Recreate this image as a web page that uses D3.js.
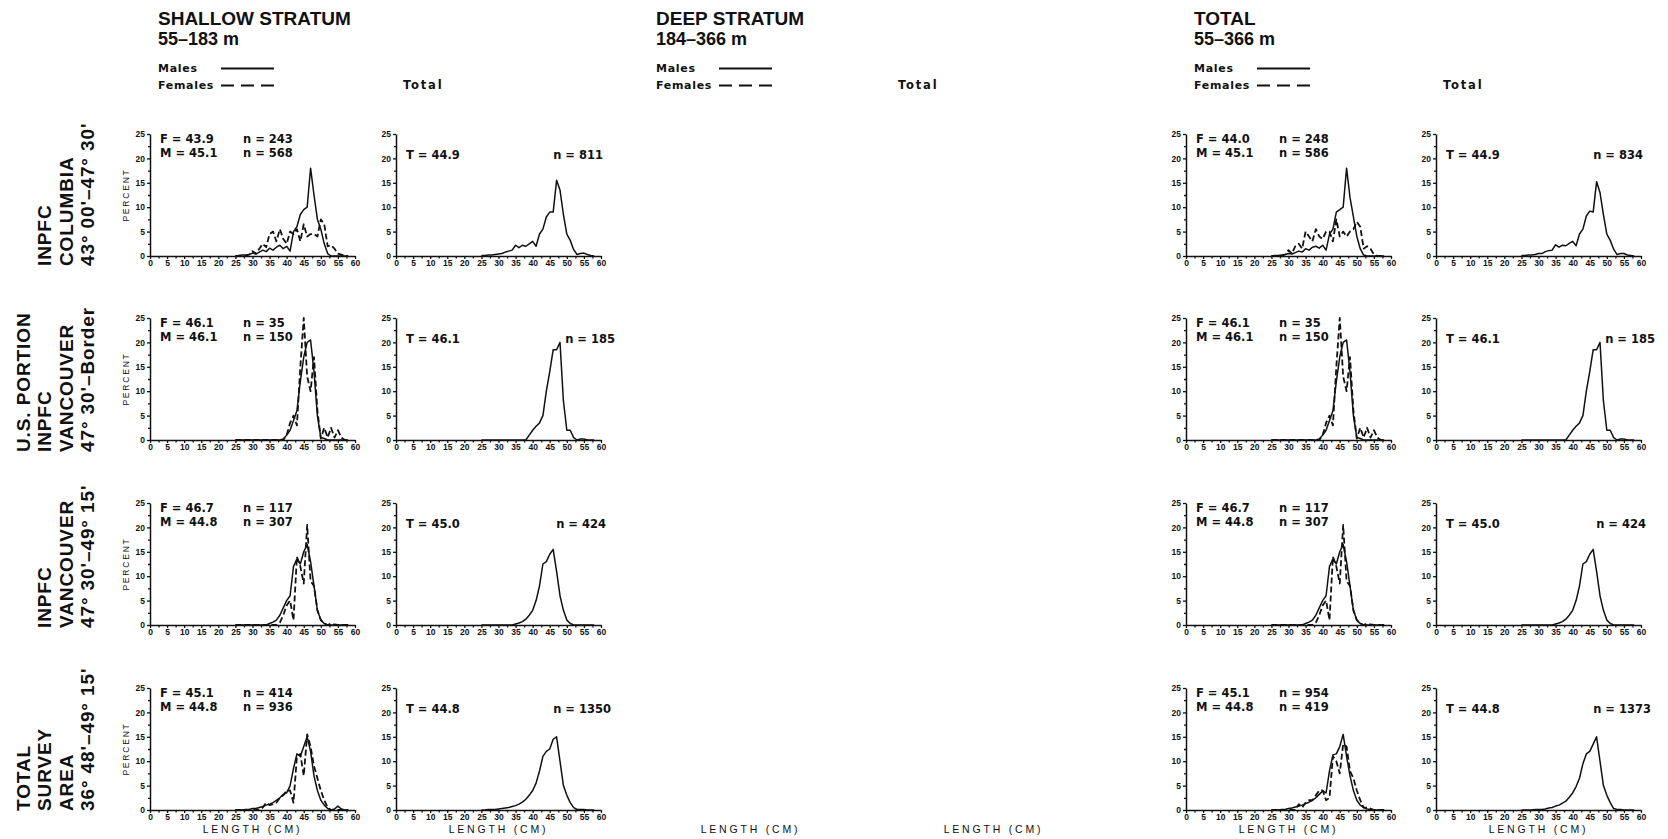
<!DOCTYPE html>
<html>
<head>
<meta charset="utf-8">
<script src="https://cdn.jsdelivr.net/npm/d3@7"></script>
<style>
  html, body { margin: 0; padding: 0; background: #fff; }
  svg { display: block; }
</style>
</head>
<body>
<svg id="chart" width="1668" height="839"></svg>
<script>
// Length classes (cm) at which each frequency series is recorded
const lengthCm = [25,26,27,28,29,30,31,32,33,34,35,36,37,38,39,40,41,
                  42,43,44,45,46,47,48,49,50,51,52,53,54,55,56,57,58];

// Axis ticks
const xTickLabels = [0,5,10,15,20,25,30,35,40,45,50,55,60];
const xMinorTicks = [2.5,7.5,12.5,17.5,22.5,27.5,32.5,37.5,42.5,47.5,52.5,57.5];
const yTickLabels = [0,5,10,15,20,25];
const yMinorTicks = [2.5,7.5,12.5,17.5,22.5];

// Row (area) labels
const rowLabels = [
  ["INPFC", "COLUMBIA", "43° 00'–47° 30'"],
  ["U.S. PORTION", "INPFC", "VANCOUVER", "47° 30'–Border"],
  ["INPFC", "VANCOUVER", "47° 30'–49° 15'"],
  ["TOTAL", "SURVEY", "AREA", "36° 48'–49° 15'"]
];

// Shallow stratum (55–183 m): percent frequency by length
const shallowColumbiaMales   = [0,0.1,0.2,0.2,0.3,0.6,0.4,0.8,1.2,0.9,1.6,1.2,1.8,2.2,1.5,2.0,1.0,5.0,6.0,8.5,9.5,10.0,18.0,12.5,7.5,5.5,2.5,0.5,0,0,0,0,0,0];
const shallowColumbiaFemales = [0,0,0,0,0.3,1.0,0.5,1.5,2.5,1.8,4.5,5.0,3.0,5.5,3.5,2.5,5.0,4.5,5.5,3.0,6.5,4.0,4.5,4.5,4.0,7.5,6.5,2.0,2.2,1.5,0.5,0.3,0,0];
const shallowColumbiaTotal   = [0.1,0.1,0.2,0.2,0.3,0.4,0.5,0.8,1.0,1.2,2.2,1.7,2.2,2.0,2.5,3.0,2.0,4.5,5.5,8.0,9.0,9.0,15.5,13.5,8.5,4.5,3.2,1.3,0.3,0.5,0.6,0.3,0.1,0];

const usVancouverMales   = [0,0,0,0,0,0,0,0,0,0,0,0,0,0,0.2,1.0,2.0,4.0,6.0,12.0,17.0,20.0,20.5,14.0,5.0,0.5,0.3,0,0,0,0,0,0,0];
const usVancouverFemales = [0,0,0,0,0,0,0,0,0,0,0,0,0,0,0,1.0,3.5,5.0,3.0,15.0,25.0,13.0,10.0,17.0,6.0,0.3,2.5,0.5,2.5,0.5,2.0,0.5,0,0];
const usVancouverTotal   = [0,0,0,0,0,0,0,0,0,0,0,0,0,0,1.0,2.0,2.8,3.5,5.0,10.0,14.0,18.5,18.5,20.0,8.0,2.0,2.0,0.5,0,0.2,0.2,0,0,0];

const vancouverMales   = [0,0,0,0,0,0,0,0,0,0,0.3,0.6,1.0,2.0,3.5,5.0,6.0,12.0,13.5,12.5,15.0,16.5,13.0,8.0,3.0,1.0,0.3,0,0,0,0,0,0,0];
const vancouverFemales = [0,0,0,0,0,0,0,0,0,0,0,0,0,0.5,2.0,4.0,5.0,1.0,14.0,12.0,8.5,20.5,9.0,8.0,3.0,1.0,0.3,0,0.3,0.1,0,0,0,0];
const vancouverTotal   = [0,0,0,0,0,0,0,0,0,0,0.2,0.4,0.7,1.2,2.0,3.0,5.0,8.0,12.5,13.0,14.5,15.5,11.0,6.0,3.0,1.0,0.3,0,0,0,0,0,0,0];

const shallowSurveyMales   = [0,0,0,0.1,0.1,0.3,0.3,0.5,0.7,1.0,1.2,1.5,2.0,2.5,3.2,3.5,5.0,8.5,11.5,11.0,13.0,15.0,12.0,7.0,4.0,2.0,1.0,0.3,0,0.2,0.8,0.2,0,0];
const shallowSurveyFemales = [0,0,0,0,0,0,0,0,0.5,1.5,1.0,1.2,1.5,2.5,3.0,4.0,4.0,1.5,11.0,11.5,7.0,15.5,13.0,9.0,6.5,4.0,2.0,0.5,0,0,0,0,0,0];
const shallowSurveyTotal   = [0,0,0.1,0.1,0.1,0.2,0.3,0.4,0.5,0.7,0.9,1.2,1.6,2.2,3.0,4.0,5.5,8.0,11.0,12.0,12.5,14.5,15.0,10.0,5.0,3.0,1.5,0.5,0.1,0.1,0.1,0,0,0];

// All depths (55–366 m): rows that differ from the shallow stratum
const allColumbiaMales   = [0,0.1,0.1,0.2,0.3,0.5,0.4,0.7,1.0,0.8,1.5,1.2,1.8,2.0,1.6,2.2,1.2,4.5,5.5,9.0,9.5,10.0,18.0,12.0,8.0,4.0,1.5,0.2,0,0,0,0,0,0];
const allColumbiaFemales = [0,0,0,0,0.3,1.2,0.5,2.0,2.5,1.5,5.0,4.0,3.0,5.5,4.0,3.5,5.0,5.0,3.0,7.5,4.0,5.0,4.0,5.0,5.5,7.0,6.0,1.5,2.0,1.5,0.3,0,0,0];
const allColumbiaTotal   = [0.1,0.1,0.2,0.2,0.3,0.5,0.5,0.9,1.1,1.2,2.3,1.8,2.2,2.1,2.6,3.0,2.1,4.5,5.5,8.2,9.2,9.0,15.2,13.0,8.5,4.5,3.2,1.4,0.3,0.5,0.5,0.2,0.1,0];

const allSurveyMales   = [0,0,0,0.1,0.1,0.3,0.4,0.6,0.8,1.0,1.3,1.6,2.0,2.5,3.2,3.9,3.5,8.0,11.3,11.5,13.0,15.5,11.0,7.0,4.0,2.0,1.0,0.5,0.2,0.1,0,0,0,0];
const allSurveyFemales = [0,0,0,0,0,0,0,0,1.2,0.5,1.5,2.0,2.0,3.0,4.0,4.0,2.0,2.5,11.0,10.0,7.5,13.5,13.0,8.0,6.5,4.0,2.0,0.5,0.5,0.3,0,0,0,0];
const allSurveyTotal   = [0,0,0,0,0.1,0.1,0.1,0.2,0.4,0.5,0.8,1.0,1.4,1.8,2.6,3.5,4.8,6.5,9.5,11.5,12.0,13.5,15.0,10.0,5.0,3.0,1.5,0.3,0.1,0.1,0,0,0,0];

// Mean lengths (cm) and sample sizes printed in each panel
const shallowFemaleMean = [43.9, 46.1, 46.7, 45.1];
const shallowFemaleN    = [243, 35, 117, 414];
const shallowMaleMean   = [45.1, 46.1, 44.8, 44.8];
const shallowMaleN      = [568, 150, 307, 936];
const shallowTotalMean  = [44.9, 46.1, 45.0, 44.8];
const shallowTotalN     = [811, 185, 424, 1350];

const allFemaleMean = [44.0, 46.1, 46.7, 45.1];
const allFemaleN    = [248, 35, 117, 954];
const allMaleMean   = [45.1, 46.1, 44.8, 44.8];
const allMaleN      = [586, 150, 307, 419];
const allTotalMean  = [44.9, 46.1, 45.0, 44.8];
const allTotalN     = [834, 185, 424, 1373];

// ---------------------------------------------------------------
const svg = d3.select("#chart");
const ink = "#111";
const bodyFont = "'Liberation Sans', Arial, sans-serif";
const wideFont = "'DejaVu Sans', 'Liberation Sans', sans-serif";

const panelW = 205, panelH = 122;
const rowBase = [256, 440, 625, 810];          // y of each row's x-axis
const rowLabelBottom = [266, 452, 628, 811];
const nEndOffset = [207, 219, 210, 215];

const x = d3.scaleLinear().domain([0, 60]).range([0, panelW]);
const y = d3.scaleLinear().domain([0, 25]).range([panelH, 0]);
const line = d3.line().x((d, i) => x(lengthCm[i])).y(d => y(d));
const fmt = d3.format(".1f");

const groups = [
  {
    title: "SHALLOW STRATUM", depth: "55–183 m", sexX: 150, totX: 396, data: true, percent: true,
    males: [shallowColumbiaMales, usVancouverMales, vancouverMales, shallowSurveyMales],
    females: [shallowColumbiaFemales, usVancouverFemales, vancouverFemales, shallowSurveyFemales],
    totals: [shallowColumbiaTotal, usVancouverTotal, vancouverTotal, shallowSurveyTotal],
    fMean: shallowFemaleMean, fN: shallowFemaleN, mMean: shallowMaleMean, mN: shallowMaleN,
    tMean: shallowTotalMean, tN: shallowTotalN
  },
  { title: "DEEP STRATUM", depth: "184–366 m", sexX: 648, totX: 891, data: false },
  {
    title: "TOTAL", depth: "55–366 m", sexX: 1186, totX: 1436, data: true, percent: false,
    males: [allColumbiaMales, usVancouverMales, vancouverMales, allSurveyMales],
    females: [allColumbiaFemales, usVancouverFemales, vancouverFemales, allSurveyFemales],
    totals: [allColumbiaTotal, usVancouverTotal, vancouverTotal, allSurveyTotal],
    fMean: allFemaleMean, fN: allFemaleN, mMean: allMaleMean, mN: allMaleN,
    tMean: allTotalMean, tN: allTotalN
  }
];

// Group headers and legends
groups.forEach(g => {
  const hx = g.sexX + 8;
  svg.append("text").attr("x", hx).attr("y", 25)
    .attr("font-family", bodyFont).attr("font-weight", "bold").attr("font-size", 19)
    .attr("fill", ink).text(g.title);
  svg.append("text").attr("x", hx).attr("y", 45)
    .attr("font-family", bodyFont).attr("font-weight", "bold").attr("font-size", 18)
    .attr("fill", ink).text(g.depth);
  svg.append("text").attr("x", hx).attr("y", 72)
    .attr("font-family", wideFont).attr("font-weight", "bold").attr("font-size", 11)
    .attr("letter-spacing", 0.7).attr("fill", ink).text("Males");
  svg.append("text").attr("x", hx).attr("y", 89)
    .attr("font-family", wideFont).attr("font-weight", "bold").attr("font-size", 11)
    .attr("letter-spacing", 0.7).attr("fill", ink).text("Females");
  svg.append("line").attr("x1", g.sexX + 71).attr("x2", g.sexX + 124)
    .attr("y1", 68.5).attr("y2", 68.5).attr("stroke", ink).attr("stroke-width", 1.8);
  svg.append("line").attr("x1", g.sexX + 71).attr("x2", g.sexX + 124)
    .attr("y1", 85.5).attr("y2", 85.5).attr("stroke", ink).attr("stroke-width", 1.8)
    .attr("stroke-dasharray", "13,7");
  svg.append("text").attr("x", g.totX + 7).attr("y", 89)
    .attr("font-family", wideFont).attr("font-weight", "bold").attr("font-size", 11.5)
    .attr("letter-spacing", 1.8).attr("fill", ink).text("Total");
});

// Row labels, rotated
rowLabels.forEach((lines, i) => {
  const n = lines.length;
  lines.forEach((t, j) => {
    const bx = 94 - (n - 1 - j) * 21.5;
    svg.append("text")
      .attr("transform", `translate(${bx},${rowLabelBottom[i]}) rotate(-90)`)
      .attr("font-family", bodyFont).attr("font-weight", "bold").attr("font-size", 19)
      .attr("letter-spacing", 0.9).attr("fill", ink).text(t);
  });
});

function drawAxes(p) {
  const ax = p.append("g").attr("transform", `translate(0,${panelH})`);
  ax.call(d3.axisBottom(x).tickValues(xTickLabels).tickSize(3).tickSizeOuter(0).tickPadding(0.5));
  const axm = p.append("g").attr("transform", `translate(0,${panelH})`);
  axm.call(d3.axisBottom(x).tickValues(xMinorTicks).tickSize(2.5).tickSizeOuter(0).tickFormat(""));
  axm.select(".domain").remove();
  const ay = p.append("g");
  ay.call(d3.axisLeft(y).tickValues(yTickLabels).tickSize(3).tickSizeOuter(0).tickPadding(2));
  const aym = p.append("g");
  aym.call(d3.axisLeft(y).tickValues(yMinorTicks).tickSize(2).tickSizeOuter(0).tickFormat(""));
  aym.select(".domain").remove();
  p.selectAll(".domain").attr("stroke", ink).attr("stroke-width", 1.5);
  p.selectAll(".tick line").attr("stroke", ink).attr("stroke-width", 1.3);
  p.selectAll(".tick text").attr("fill", ink)
    .attr("font-family", bodyFont).attr("font-weight", "bold").attr("font-size", 8.5);
}

function lengthLabel(p) {
  p.append("text").attr("x", panelW / 2).attr("y", panelH + 23)
    .attr("text-anchor", "middle").attr("font-family", bodyFont).attr("font-size", 10.5)
    .attr("letter-spacing", 2.8).attr("fill", ink).text("LENGTH (CM)");
}

const statStyle = s => s.attr("font-family", wideFont).attr("font-weight", "bold")
  .attr("font-size", 11.5).attr("fill", ink);

groups.forEach(g => {
  rowBase.forEach((base, r) => {
    const top = base - panelH;
    const ps = svg.append("g").attr("transform", `translate(${g.sexX},${top})`);
    const pt = svg.append("g").attr("transform", `translate(${g.totX},${top})`);
    if (r === 3) { lengthLabel(ps); lengthLabel(pt); }
    if (!g.data) return;

    // Males / females panel
    drawAxes(ps);
    ps.append("path").datum(g.females[r]).attr("d", line)
      .attr("fill", "none").attr("stroke", ink).attr("stroke-width", 1.8)
      .attr("stroke-dasharray", "6,3").attr("stroke-linejoin", "round");
    ps.append("path").datum(g.males[r]).attr("d", line)
      .attr("fill", "none").attr("stroke", ink).attr("stroke-width", 1.5)
      .attr("stroke-linejoin", "round");
    ps.append("text").attr("x", 10).attr("y", 9).call(statStyle).text(`F = ${fmt(g.fMean[r])}`);
    ps.append("text").attr("x", 10).attr("y", 23).call(statStyle).text(`M = ${fmt(g.mMean[r])}`);
    ps.append("text").attr("x", 93).attr("y", 9).call(statStyle).text(`n = ${g.fN[r]}`);
    ps.append("text").attr("x", 93).attr("y", 23).call(statStyle).text(`n = ${g.mN[r]}`);
    if (g.percent) {
      ps.append("text")
        .attr("transform", `translate(-21,${panelH / 2}) rotate(-90)`)
        .attr("text-anchor", "middle").attr("font-family", bodyFont).attr("font-size", 8.5)
        .attr("letter-spacing", 1.8).attr("fill", ink).text("PERCENT");
    }

    // Total panel
    drawAxes(pt);
    pt.append("path").datum(g.totals[r]).attr("d", line)
      .attr("fill", "none").attr("stroke", ink).attr("stroke-width", 1.5)
      .attr("stroke-linejoin", "round");
    pt.append("text").attr("x", 10).attr("y", 25).call(statStyle).text(`T = ${fmt(g.tMean[r])}`);
    pt.append("text").attr("x", nEndOffset[r]).attr("y", 25).attr("text-anchor", "end")
      .call(statStyle).text(`n = ${g.tN[r]}`);
  });
});
</script>
</body>
</html>
